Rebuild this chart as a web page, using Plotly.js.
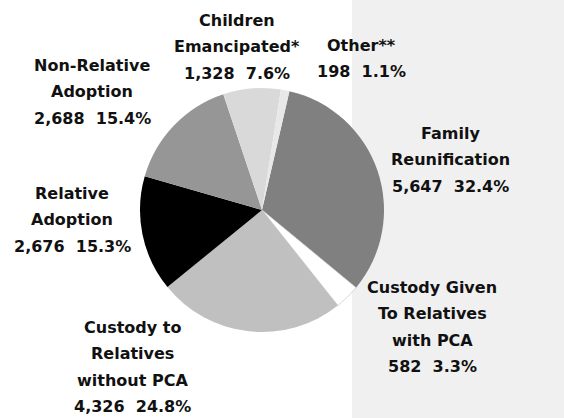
<!DOCTYPE html>
<html><head><meta charset="utf-8">
<script src="https://cdn.plot.ly/plotly-3.0.1.min.js"></script>
<style>html,body{margin:0;padding:0;background:#fff}#c{width:564px;height:418px}</style>
</head><body><div id="c"></div>
<script>
// Data (clockwise from Family Reunification)
const categories = ["Family Reunification","Custody Given To Relatives with PCA","Custody to Relatives without PCA","Relative Adoption","Non-Relative Adoption","Children Emancipated*","Other**"];
const labelLines = [["Family","Reunification"],["Custody Given","To Relatives","with PCA"],["Custody to","Relatives","without PCA"],["Relative","Adoption"],["Non-Relative","Adoption"],["Children","Emancipated*"],["Other**"]];
const counts = [5647, 582, 4326, 2676, 2688, 1328, 198];
const percents = ["32.4%","3.3%","24.8%","15.3%","15.4%","7.6%","1.1%"];
const colors = ["#808080","#ffffff","#c0c0c0","#000000","#969696","#d9d9d9","#e8e8e8"];

// Label layout (pixel coords, y from top): center x, first-line y
const labelPos = [[450,133],[432,287],[132,327],[72,193],[92,65],[237,20],[361,45]];
const lineGap = 26.5;

const W=564,H=418;
const annotations=[];
categories.forEach((c,i)=>{
  const lines = labelLines[i].concat([counts[i].toLocaleString("en-US")+"\u00a0 "+percents[i]]);
  lines.forEach((t,j)=>{
    annotations.push({x:labelPos[i][0], y:H-(labelPos[i][1]+j*lineGap), xref:"x", yref:"y",
      text:"<b>"+t+"</b>", showarrow:false, xanchor:"center", yanchor:"middle",
      font:{family:"'DejaVu Sans', sans-serif", size:16, color:"#111", weight:"bold"}});
  });
});

const cx=262, cy=210, r=122;
const trace={type:"pie", values:counts, labels:categories, sort:false, direction:"clockwise", rotation:13,
  marker:{colors:colors, line:{color:["#808080","#c8c8c8","#c0c0c0","#000000","#969696","#d9d9d9","#e8e8e8"], width:[0,0.7,0,0,0,0,0]}},
  textinfo:"none", hoverinfo:"skip", showlegend:false,
  domain:{x:[(cx-r)/W,(cx+r)/W], y:[(H-cy-r)/H,(H-cy+r)/H]}};

const layout={width:W,height:H,margin:{l:0,r:0,t:0,b:0},paper_bgcolor:"#ffffff",plot_bgcolor:"rgba(0,0,0,0)",
  xaxis:{range:[0,W],visible:false,fixedrange:true},
  yaxis:{range:[0,H],visible:false,fixedrange:true},
  shapes:[{type:"rect",xref:"x",yref:"y",x0:352,x1:W,y0:0,y1:H,fillcolor:"#f0f0f0",line:{width:0},layer:"below"}],
  annotations:annotations, showlegend:false};
Plotly.newPlot("c",[trace],layout,{staticPlot:true});
</script></body></html>
